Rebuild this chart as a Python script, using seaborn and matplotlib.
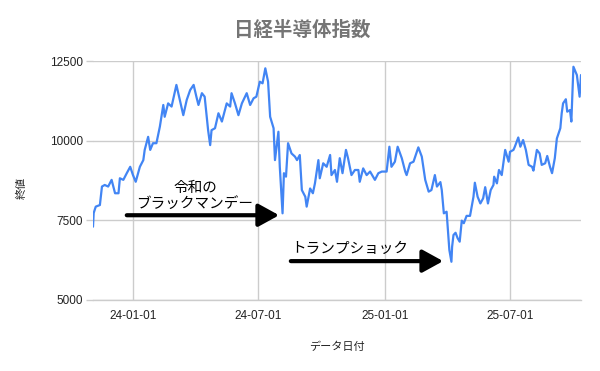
import matplotlib
matplotlib.use("Agg")
import matplotlib.pyplot as plt
import seaborn as sns
import pandas as pd

# ---- data ----
dates = [
    "2023-11-04", "2023-11-05", "2023-11-08", "2023-11-14", "2023-11-17", "2023-11-21", "2023-11-26",
    "2023-12-01", "2023-12-06", "2023-12-11", "2023-12-13", "2023-12-18", "2023-12-23", "2023-12-28",
    "2024-01-01", "2024-01-05", "2024-01-11", "2024-01-16", "2024-01-18", "2024-01-23", "2024-01-26",
    "2024-01-30", "2024-02-04", "2024-02-09", "2024-02-14", "2024-02-16", "2024-02-21", "2024-02-26",
    "2024-03-04", "2024-03-09", "2024-03-14", "2024-03-19", "2024-03-24", "2024-03-29", "2024-04-02",
    "2024-04-05", "2024-04-10", "2024-04-14", "2024-04-19", "2024-04-22", "2024-04-24", "2024-04-29",
    "2024-05-04", "2024-05-09", "2024-05-16", "2024-05-21", "2024-05-23", "2024-05-28", "2024-06-02",
    "2024-06-07", "2024-06-14", "2024-06-19", "2024-06-24", "2024-06-28", "2024-07-03", "2024-07-07",
    "2024-07-11", "2024-07-15", "2024-07-18", "2024-07-23", "2024-07-25", "2024-07-30", "2024-08-01",
    "2024-08-05", "2024-08-07", "2024-08-10", "2024-08-13", "2024-08-18", "2024-08-23", "2024-08-26",
    "2024-08-30", "2024-09-02", "2024-09-07", "2024-09-09", "2024-09-14", "2024-09-18", "2024-09-21",
    "2024-09-26", "2024-09-28", "2024-10-03", "2024-10-08", "2024-10-13", "2024-10-15", "2024-10-20",
    "2024-10-23", "2024-10-27", "2024-10-31", "2024-11-05", "2024-11-08", "2024-11-13", "2024-11-18",
    "2024-11-23", "2024-11-25", "2024-11-30", "2024-12-05", "2024-12-10", "2024-12-17", "2024-12-22",
    "2024-12-27", "2025-01-03", "2025-01-07", "2025-01-10", "2025-01-15", "2025-01-19", "2025-01-25",
    "2025-01-30", "2025-02-01", "2025-02-06", "2025-02-11", "2025-02-18", "2025-02-23", "2025-02-28",
    "2025-03-05", "2025-03-09", "2025-03-14", "2025-03-17", "2025-03-22", "2025-03-24", "2025-03-27",
    "2025-03-31", "2025-04-03", "2025-04-04", "2025-04-07", "2025-04-08", "2025-04-10", "2025-04-13",
    "2025-04-16", "2025-04-19", "2025-04-22", "2025-04-25", "2025-04-29", "2025-05-04", "2025-05-09",
    "2025-05-11", "2025-05-15", "2025-05-19", "2025-05-23", "2025-05-26", "2025-05-30", "2025-06-03",
    "2025-06-07", "2025-06-08", "2025-06-12", "2025-06-15", "2025-06-19", "2025-06-24", "2025-06-29",
    "2025-07-01", "2025-07-06", "2025-07-08", "2025-07-13", "2025-07-16", "2025-07-20", "2025-07-24",
    "2025-07-28", "2025-08-02", "2025-08-04", "2025-08-09", "2025-08-13", "2025-08-16", "2025-08-21",
    "2025-08-24", "2025-08-28", "2025-08-31", "2025-09-04", "2025-09-07", "2025-09-12", "2025-09-14",
    "2025-09-16", "2025-09-20", "2025-09-22", "2025-09-26", "2025-09-28", "2025-10-01", "2025-10-06",
    "2025-10-10", "2025-10-12",
]
close = [
    7300, 7730, 7930, 7980, 8560, 8610, 8560,
    8770, 8350, 8350, 8820, 8770, 8980, 9180,
    8920, 8710, 9180, 9390, 9710, 10120, 9710,
    9920, 9920, 10440, 11120, 10750, 11170, 11070,
    11750, 11280, 10800, 11280, 11590, 11750, 11380,
    11120, 11490, 11380, 10330, 9860, 10330, 10390,
    10860, 10600, 11170, 11070, 11490, 11170, 10800,
    11170, 11490, 11120, 11330, 11380, 11850, 11800,
    12270, 11850, 10750, 10390, 9390, 10280, 9180,
    7720, 8980, 8870, 9920, 9600, 9500, 9390,
    9550, 8450, 8240, 7930, 8500, 8350, 8660,
    9390, 8820, 9290, 9180, 9550, 8920, 9080,
    8710, 9450, 8980, 9710, 9450, 8920, 9080,
    9080, 8710, 9130, 8920, 9030, 8770, 8980,
    9030, 9030, 9810, 9180, 9340, 9810, 9450,
    9030, 8920, 9290, 9340, 9790, 9500, 8770,
    8400, 8450, 8920, 8560, 8700, 8450, 7720,
    7770, 6900, 6570, 6200, 6670, 7040, 7110,
    6940, 6830, 7490, 7410, 7640, 7640, 8240,
    8680, 8240, 8030, 8190, 8540, 8030, 8450,
    8610, 8870, 8660, 9080, 8920, 9710, 9340,
    9650, 9710, 9810, 10100, 9810, 10020, 9710,
    9240, 9180, 9060, 9710, 9600, 9240, 9290,
    9520, 9180, 8980, 9450, 10070, 10390, 10860,
    11170, 11300, 10910, 10960, 10600, 12320, 12060,
    11380, 12060,
]
y_ticks = [5000, 7500, 10000, 12500]
x_tick_dates = ["2024-01-01", "2024-07-01", "2025-01-01", "2025-07-01"]
x_tick_labels = ["24-01-01", "24-07-01", "25-01-01", "25-07-01"]

title = "日経半導体指数"
x_label = "データ日付"
y_label = "終値"

note1_text = "令和の\nブラックマンデー"
note1_pos = ("2024-03-31", 8270)
arrow1_from = ("2023-12-23", 7660)
arrow1_to = ("2024-07-31", 7660)

note2_text = "トランプショック"
note2_pos = ("2024-08-18", 6600)
arrow2_from = ("2024-08-17", 6220)
arrow2_to = ("2025-03-26", 6220)

# ---- plotting ----
sns.set_theme(style="whitegrid")
plt.rcParams['font.family'] = ['Noto Sans CJK JP', 'DejaVu Sans']

df = pd.DataFrame({x_label: pd.to_datetime(dates), y_label: close})

fig = plt.figure(figsize=(6, 3.71), dpi=100)
fig.patch.set_facecolor("white")
ax = fig.add_axes([93 / 600, 1 - 300 / 371, (581 - 93) / 600, (300 - 61) / 371])
ax.set_facecolor("white")

sns.lineplot(data=df, x=x_label, y=y_label, ax=ax, color="#4285F4", linewidth=1.6)

ax.set_ylim(y_ticks[0], y_ticks[-1])
ax.set_yticks(y_ticks)
ax.set_yticklabels([str(v) for v in y_ticks], fontfamily="Liberation Sans", fontsize=8.5, color="#222222")
ax.set_xlim(df[x_label].min(), df[x_label].max())
ax.set_xticks(pd.to_datetime(x_tick_dates))
ax.set_xticklabels(x_tick_labels, fontfamily="Liberation Sans", fontsize=8.5, color="#222222")

ax.grid(True, color="#cccccc", linewidth=1.0)
for s in ["left", "right", "top"]:
    ax.spines[s].set_visible(False)
ax.spines["bottom"].set_color("#cccccc")
ax.spines["bottom"].set_linewidth(1.0)
ax.tick_params(axis="y", length=5, width=1, color="#cccccc", pad=2, left=True)
ax.tick_params(axis="x", length=0, pad=7)

ax.set_xlabel(x_label, fontsize=8, color="#222222", labelpad=14)
ax.set_ylabel(y_label, fontsize=8, color="#222222")
ax.yaxis.set_label_coords(-0.137, 0.47)
fig.text(0.503, 1 - 30 / 371, title, ha="center", va="center", fontsize=14,
         fontweight="bold", color="#757575")

def to_xy(p):
    return (pd.Timestamp(p[0]), p[1])

arrow_props = dict(arrowstyle="-|>,head_length=1.0,head_width=0.55", mutation_scale=12.5,
                   lw=3, color="black", shrinkA=0, shrinkB=0)
ax.annotate("", xy=to_xy(arrow1_to), xytext=to_xy(arrow1_from), arrowprops=arrow_props)
ax.annotate("", xy=to_xy(arrow2_to), xytext=to_xy(arrow2_from), arrowprops=arrow_props)

ax.text(*to_xy(note1_pos), note1_text, ha="center", va="center", multialignment="center",
        fontsize=10.5, color="black", linespacing=1.15)
ax.text(*to_xy(note2_pos), note2_text, ha="left", va="center", fontsize=10.5, color="black")

fig.savefig("out.png", dpi=100, facecolor="white")
